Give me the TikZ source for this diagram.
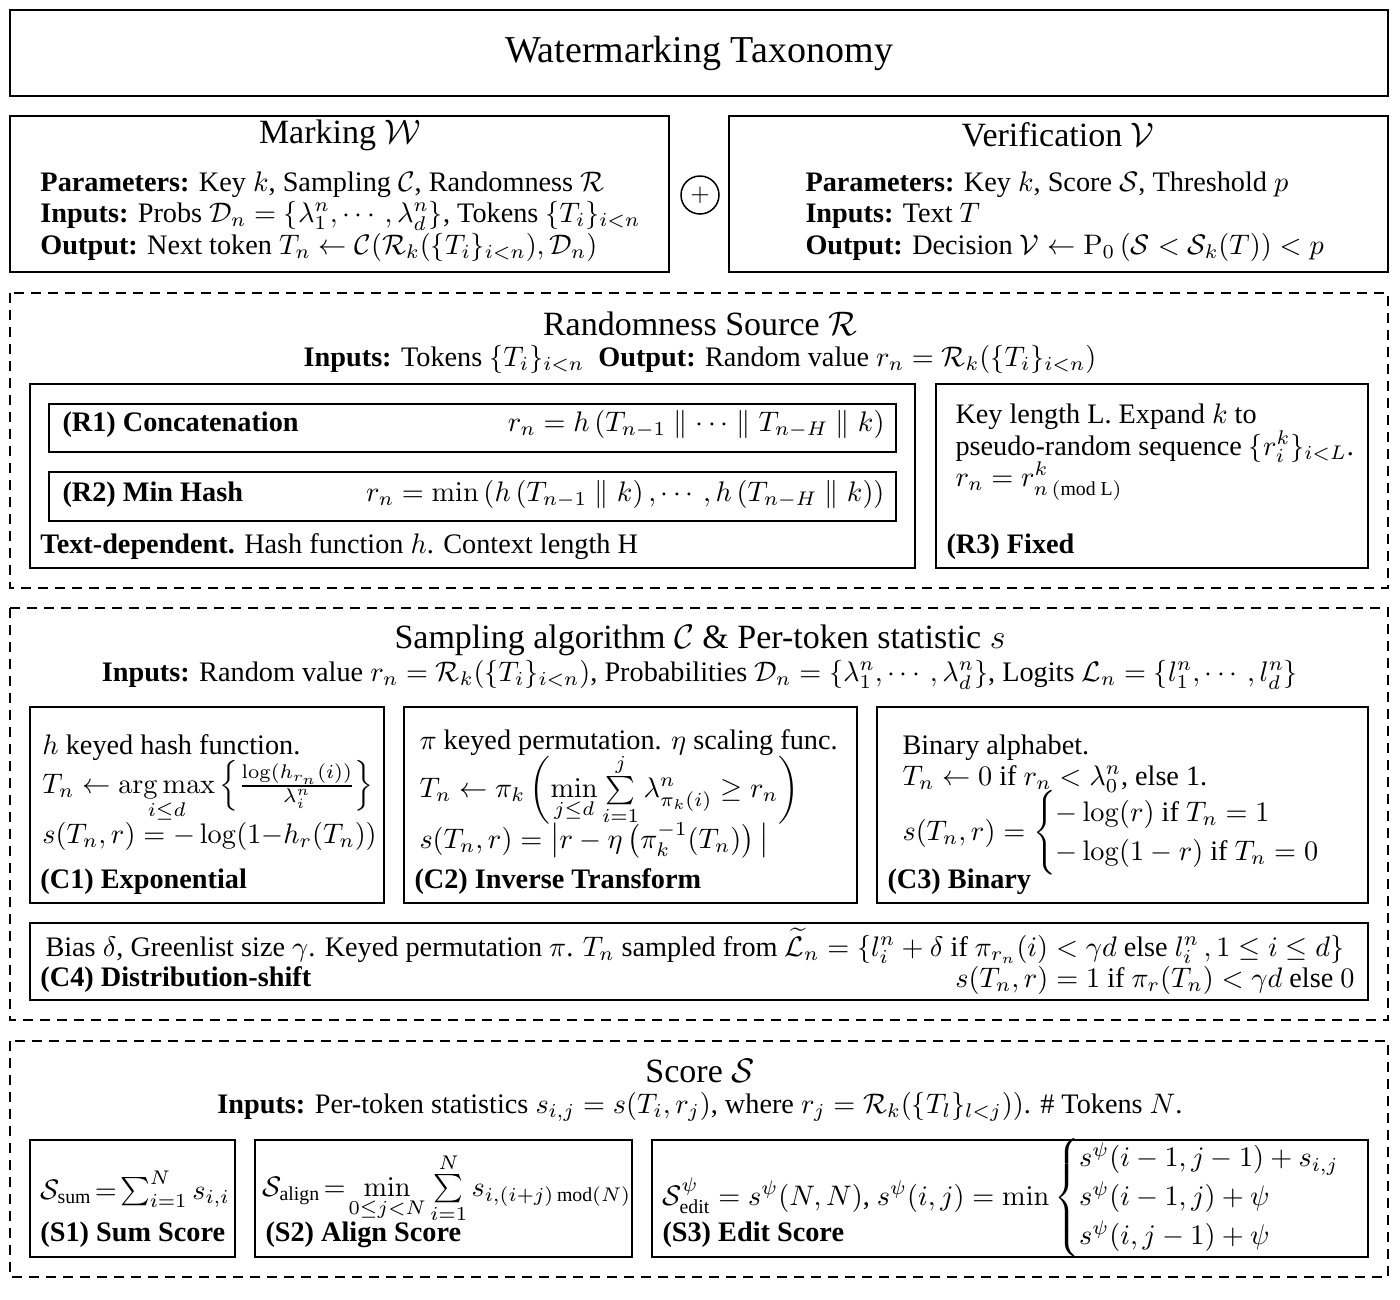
\IfFileExists{fix-cm.sty}{\RequirePackage{fix-cm}}{}
\documentclass[tikz,border=0pt]{standalone}
\usepackage{amsmath,amssymb}
\usepackage[no-math]{fontspec}
\setmainfont{Liberation Serif}
\tikzset{
  sbox/.style={draw, line width=0.6pt},
  dbox/.style={draw, line width=0.6pt, dash pattern=on 4pt off 2.8pt},
  txt/.style={inner sep=0pt, anchor=base west, font=\fontsize{11.3}{13}\selectfont},
  rtxt/.style={txt, anchor=base east},
  ctxt/.style={txt, anchor=base},
  mtxt/.style={txt, anchor=west},
  sectitle/.style={inner sep=0pt, anchor=base, font=\fontsize{13.6}{15}\selectfont},
  maintitle/.style={inner sep=0pt, font=\fontsize{15.2}{17}\selectfont},
}
\begin{document}
\begin{tikzpicture}[x=0.4pt,y=-0.4pt]
\useasboundingbox (0,0) rectangle (1400,1300);
% Title
\draw[sbox] (10,10) rectangle (1388,96);
\node[maintitle] (title) at (699,53) {Watermarking Taxonomy};
% Marking
\draw[sbox] (10,116) rectangle (669,272);
\node[sectitle] (markT) at (340,143) {Marking $\mathcal{W}$};
\node[txt] (markP) at (40,191) {\textbf{Parameters:} Key $k$, Sampling $\mathcal{C}$, Randomness $\mathcal{R}$};
\node[txt] (markI) at (40,222) {\textbf{Inputs:} Probs $\mathcal{D}_n=\{\lambda_1^n,\cdots,\lambda_d^n\}$, Tokens $\{T_i\}_{i<n}$};
\node[txt] (markO) at (40,254) {\textbf{Output:} Next token $T_n\leftarrow\mathcal{C}(\mathcal{R}_k(\{T_i\}_{i<n}),\mathcal{D}_n)$};
% plus
\node[circle, draw, line width=0.6pt, minimum size=15.2pt, inner sep=0pt] (plus) at (700,195) {$+$};
% Verification
\draw[sbox] (729,116) rectangle (1388,272);
\node[sectitle] (verT) at (1058,146) {Verification $\mathcal{V}$};
\node[txt] (verP) at (805,191) {\textbf{Parameters:} Key $k$, Score $\mathcal{S}$, Threshold $p$};
\node[txt] (verI) at (805,222) {\textbf{Inputs:} Text $T$};
\node[txt] (verO) at (805,254) {\textbf{Output:} Decision $\mathcal{V}\leftarrow\mathrm{P}_0\left(\mathcal{S}<\mathcal{S}_k(T)\right)<p$};
% Randomness
\draw[dbox] (10,293) rectangle (1388,588);
\node[sectitle] (randT) at (700,335) {Randomness Source $\mathcal{R}$};
\node[ctxt] (randI) at (700,366) {\textbf{Inputs:} Tokens $\{T_i\}_{i<n}$\ \ \textbf{Output:} Random value $r_n=\mathcal{R}_k(\{T_i\}_{i<n})$};
\draw[sbox] (30,384) rectangle (915,568);
\draw[sbox] (49,404) rectangle (896,452);
\node[txt] (r1L) at (62,431) {\textbf{(R1) Concatenation}};
\node[rtxt] (r1F) at (885,431) {$r_n=h\left(T_{n-1}\parallel\cdots\parallel T_{n-H}\parallel k\right)$};
\draw[sbox] (49,472) rectangle (896,521);
\node[txt] (r2L) at (62,501) {\textbf{(R2) Min Hash}};
\node[rtxt] (r2F) at (885,501) {$r_n=\min\left(h\left(T_{n-1}\parallel k\right),\cdots,h\left(T_{n-H}\parallel k\right)\right)$};
\node[txt] (textdep) at (40,553) {\textbf{Text-dependent.} Hash function $h$. Context length H};
\draw[sbox] (936,384) rectangle (1368,568);
\node[txt] (r3a) at (955,423) {Key length L. Expand $k$ to};
\node[txt] (r3b) at (955,455) {pseudo-random sequence $\{r_i^k\}_{i<L}$.};
\node[txt] (r3c) at (955,486) {$r_n=r^k_{n\,(\text{mod L})}$};
\node[txt] (r3L) at (946,553) {\textbf{(R3) Fixed}};
% Sampling
\draw[dbox] (10,608) rectangle (1388,1020);
\node[sectitle] (sampT) at (700,648) {Sampling algorithm $\mathcal{C}$ \& Per-token statistic $s$};
\node[ctxt] (sampI) at (700,681) {\textbf{Inputs:} Random value $r_n=\mathcal{R}_k(\{T_i\}_{i<n})$, Probabilities $\mathcal{D}_n=\{\lambda_1^n,\cdots,\lambda_d^n\}$, Logits $\mathcal{L}_n=\{l_1^n,\cdots,l_d^n\}$};
% C1
\draw[sbox] (30,707) rectangle (384,903);
\node[txt] (c1a) at (42,754) {$h$ keyed hash function.};
\node[txt] (c1b) at (42,793) {$T_n\leftarrow\mathop{\mathrm{arg\,max}}\limits_{i\le d}\left\{\tfrac{\log(h_{r_n}(i))}{\lambda_i^n}\right\}$};
\node[txt] (c1c) at (42,843) {$s(T_n,r)=-\log(1{-}h_r(T_n))$};
\node[txt] (c1L) at (40,888) {\textbf{(C1) Exponential}};
% C2
\draw[sbox] (404,707) rectangle (857,903);
\node[txt] (c2a) at (419,749) {$\pi$ keyed permutation. $\eta$ scaling func.};
\node[mtxt] (c2b) at (419,789) {$T_n\leftarrow\pi_k\left(\min\limits_{j\le d}\sum\limits_{i=1}^{j}\lambda^n_{\pi_k(i)}\ge r_n\right)$};
\node[txt] (c2c) at (419,848) {$s(T_n,r)=\left|r-\eta\left(\pi_k^{-1}(T_n)\right)\,\right|$};
\node[txt] (c2L) at (414,888) {\textbf{(C2) Inverse Transform}};
% C3
\draw[sbox] (877,707) rectangle (1368,903);
\node[txt] (c3a) at (902,754) {Binary alphabet.};
\node[txt] (c3b) at (902,785) {$T_n\leftarrow 0$ if $r_n<\lambda_0^n$, else 1.};
\node[mtxt] (c3c) at (902,833) {$s(T_n,r)=\begin{cases}-\log(r)\text{ if }T_n=1\\-\log(1-r)\text{ if }T_n=0\end{cases}$};
\node[txt] (c3L) at (887,888) {\textbf{(C3) Binary}};
% C4
\draw[sbox] (30,923) rectangle (1368,1000);
\node[txt] (c4a) at (45,956) {Bias $\delta$, Greenlist size $\gamma$. Keyed permutation $\pi$. $T_n$ sampled from $\widetilde{\mathcal{L}}_n=\{l_i^n+\delta\text{ if }\pi_{r_n}(i)<\gamma d\text{ else }l_i^n\,,1\le i\le d\}$};
\node[txt] (c4L) at (40,986) {\textbf{(C4) Distribution-shift}};
\node[rtxt] (c4b) at (1355,987) {$s(T_n,r)=1\text{ if }\pi_r(T_n)<\gamma d\text{ else }0$};
% Score
\draw[dbox] (10,1041) rectangle (1388,1277);
\node[sectitle] (scoreT) at (700,1082) {Score $\mathcal{S}$};
\node[ctxt] (scoreI) at (700,1113) {\textbf{Inputs:} Per-token statistics $s_{i,j}=s(T_i,r_j)$, where $r_j=\mathcal{R}_k(\{T_l\}_{l<j}))$. \# Tokens $N$.};
\draw[sbox] (30,1140) rectangle (235,1257);
\node[txt] (s1F) at (40,1199) {$\mathcal{S}_{\text{sum}}\!=\!\sum_{i=1}^{N}s_{i,i}$};
\node[txt] (s1L) at (40,1241) {\textbf{(S1) Sum Score}};
\draw[sbox] (255,1140) rectangle (632,1257);
\node[txt] (s2F) at (262,1196) {$\mathcal{S}_{\text{align}}\!=\!\min\limits_{0\le j<N}\sum\limits_{i=1}^{N}s_{i,(i+j)\,\text{mod}(N)}$};
\node[txt] (s2L) at (265,1241) {\textbf{(S2) Align Score}};
\draw[sbox] (652,1140) rectangle (1368,1257);
\node[mtxt] (s3F) at (662,1198) {$\mathcal{S}^{\psi}_{\text{edit}}=s^{\psi}(N,N)$, $s^{\psi}(i,j)=\min\begin{cases}s^{\psi}(i-1,j-1)+s_{i,j}\\ s^{\psi}(i-1,j)+\psi\\ s^{\psi}(i,j-1)+\psi\end{cases}$};
\node[txt] (s3L) at (662,1241) {\textbf{(S3) Edit Score}};
\end{tikzpicture}
\end{document}
